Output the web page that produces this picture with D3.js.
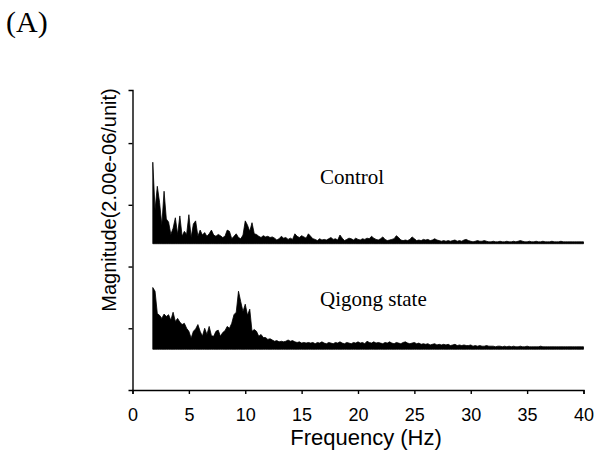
<!DOCTYPE html>
<html>
<head>
<meta charset="utf-8">
<script src="https://cdn.jsdelivr.net/npm/d3@7"></script>
<style>
  html, body { margin: 0; padding: 0; background: #fff; }
  svg { display: block; }
  .axis path, .axis line { stroke: #000; stroke-width: 1.4; }
  .axis text { font-family: "Liberation Sans", Arial, sans-serif; font-size: 18px; fill: #000; }
  .serif { font-family: "Liberation Serif", "Times New Roman", serif; fill: #000; }
  .sans { font-family: "Liberation Sans", Arial, sans-serif; fill: #000; }
</style>
</head>
<body>
<svg id="chart" width="597" height="471"></svg>
<script>
// spectra sampled every 0.2 Hz from 1.8 Hz to 40 Hz (magnitude in 2.00e-06 units)
const F_START = 1.8;
const F_STEP = 0.2;
const X_TICKS = [0, 5, 10, 15, 20, 25, 30, 35, 40];
const Y_TICKS = [1, 2, 3, 4];

const CONTROL_OFFSET = 2.37;
const QIGONG_OFFSET = 0.66;

const controlValues = [
  1.32, 0.55, 0.93, 0.67, 0.30, 0.85, 0.40, 0.35, 0.15, 0.25,
  0.42, 0.15, 0.45, 0.12, 0.20, 0.15, 0.47, 0.10, 0.32, 0.37,
  0.12, 0.22, 0.14, 0.18, 0.12, 0.16, 0.22, 0.14, 0.12, 0.15,
  0.13, 0.10, 0.12, 0.22, 0.20, 0.08, 0.12, 0.16, 0.10, 0.08,
  0.14, 0.37, 0.30, 0.20, 0.34, 0.16, 0.15, 0.12, 0.10, 0.13,
  0.11, 0.12, 0.10, 0.11, 0.09, 0.06, 0.08, 0.12, 0.09, 0.10,
  0.07, 0.09, 0.07, 0.16, 0.12, 0.10, 0.13, 0.11, 0.09, 0.16,
  0.12, 0.08, 0.07, 0.05, 0.08, 0.06, 0.07, 0.06, 0.08, 0.10,
  0.07, 0.08, 0.06, 0.14, 0.09, 0.05, 0.07, 0.09, 0.08, 0.06,
  0.09, 0.07, 0.06, 0.08, 0.07, 0.09, 0.08, 0.12, 0.09, 0.07,
  0.06, 0.08, 0.11, 0.07, 0.05, 0.06, 0.07, 0.08, 0.13, 0.10,
  0.06, 0.05, 0.06, 0.05, 0.07, 0.11, 0.08, 0.05, 0.06, 0.05,
  0.07, 0.06, 0.07, 0.05, 0.06, 0.08, 0.06, 0.05, 0.04, 0.05,
  0.04, 0.05, 0.04, 0.05, 0.06, 0.04, 0.05, 0.04, 0.06, 0.07,
  0.05, 0.04, 0.03, 0.04, 0.05, 0.04, 0.04, 0.05, 0.04, 0.03,
  0.03, 0.04, 0.03, 0.03, 0.04, 0.03, 0.03, 0.04, 0.03, 0.03,
  0.04, 0.03, 0.04, 0.05, 0.04, 0.03, 0.03, 0.04, 0.03, 0.03,
  0.04, 0.03, 0.03, 0.04, 0.03, 0.03, 0.03, 0.04, 0.03, 0.03,
  0.03, 0.04, 0.03, 0.03, 0.03, 0.03, 0.03, 0.03, 0.03, 0.03,
  0.03, 0.03
];

const qigongValues = [
  1.00, 0.94, 0.58, 0.55, 0.50, 0.57, 0.53, 0.56, 0.47, 0.60,
  0.45, 0.50, 0.44, 0.40, 0.42, 0.34, 0.29, 0.18, 0.29, 0.33,
  0.40, 0.29, 0.21, 0.34, 0.24, 0.37, 0.22, 0.21, 0.29, 0.31,
  0.21, 0.27, 0.30, 0.37, 0.34, 0.42, 0.56, 0.60, 0.94, 0.77,
  0.61, 0.73, 0.55, 0.65, 0.29, 0.32, 0.29, 0.21, 0.24, 0.19,
  0.19, 0.16, 0.17, 0.15, 0.13, 0.14, 0.12, 0.13, 0.12, 0.13,
  0.15, 0.13, 0.14, 0.12, 0.11, 0.12, 0.10, 0.11, 0.10, 0.11,
  0.10, 0.11, 0.09, 0.11, 0.10, 0.12, 0.10, 0.09, 0.11, 0.10,
  0.09, 0.11, 0.10, 0.12, 0.10, 0.09, 0.11, 0.10, 0.09, 0.11,
  0.10, 0.12, 0.10, 0.11, 0.09, 0.13, 0.11, 0.10, 0.12, 0.10,
  0.11, 0.10, 0.09, 0.11, 0.10, 0.12, 0.10, 0.09, 0.11, 0.10,
  0.09, 0.11, 0.12, 0.10, 0.09, 0.10, 0.11, 0.09, 0.10, 0.08,
  0.09, 0.08, 0.09, 0.07, 0.08, 0.09, 0.07, 0.08, 0.07, 0.08,
  0.07, 0.08, 0.06, 0.07, 0.08, 0.06, 0.07, 0.06, 0.07, 0.06,
  0.06, 0.07, 0.05, 0.06, 0.05, 0.06, 0.05, 0.05, 0.06, 0.05,
  0.05, 0.05, 0.04, 0.05, 0.05, 0.04, 0.05, 0.04, 0.05, 0.04,
  0.05, 0.04, 0.04, 0.05, 0.04, 0.04, 0.05, 0.04, 0.04, 0.04,
  0.04, 0.04, 0.05, 0.04, 0.04, 0.04, 0.04, 0.04, 0.04, 0.04,
  0.04, 0.04, 0.04, 0.04, 0.04, 0.04, 0.04, 0.04, 0.04, 0.04,
  0.04, 0.04
];

const svg = d3.select('#chart');

const x = d3.scaleLinear().domain([0, 40]).range([132.5, 583.5]);
const y = d3.scaleLinear().domain([0, 4.86]).range([390, 90]);

function drawSpectrum(values, offset) {
  const pts = values.map((v, i) => ({ f: F_START + i * F_STEP, v }));
  const area = d3.area()
    .x(d => x(d.f))
    .y0(y(offset))
    .y1(d => y(offset + d.v));
  svg.append('path')
    .datum(pts)
    .attr('d', area)
    .attr('fill', '#000')
    .attr('stroke', '#000')
    .attr('stroke-width', 0.8)
    .attr('stroke-linejoin', 'miter');
}

drawSpectrum(controlValues, CONTROL_OFFSET);
drawSpectrum(qigongValues, QIGONG_OFFSET);

// Axes
const xAxis = d3.axisBottom(x)
  .tickValues(X_TICKS)
  .tickSize(4)
  .tickSizeOuter(4)
  .tickPadding(14);
svg.append('g')
  .attr('class', 'axis')
  .attr('transform', 'translate(0,390)')
  .call(xAxis);

const yAxis = d3.axisLeft(y)
  .tickValues(Y_TICKS)
  .tickSize(4)
  .tickSizeOuter(4)
  .tickFormat('');
svg.append('g')
  .attr('class', 'axis')
  .attr('transform', 'translate(132.5,0)')
  .call(yAxis);

// Labels
svg.append('text')
  .attr('class', 'sans')
  .attr('x', 366)
  .attr('y', 445)
  .attr('text-anchor', 'middle')
  .attr('font-size', 22)
  .text('Frequency (Hz)');

svg.append('text')
  .attr('class', 'sans')
  .attr('transform', 'translate(116,200) rotate(-90)')
  .attr('text-anchor', 'middle')
  .attr('font-size', 20)
  .text('Magnitude(2.00e-06/unit)');

svg.append('text')
  .attr('class', 'serif')
  .attr('x', 6)
  .attr('y', 32)
  .attr('font-size', 30)
  .text('(A)');

svg.append('text')
  .attr('class', 'serif')
  .attr('x', 320)
  .attr('y', 183.5)
  .attr('font-size', 21)
  .text('Control');

svg.append('text')
  .attr('class', 'serif')
  .attr('x', 320)
  .attr('y', 306)
  .attr('font-size', 21)
  .text('Qigong state');
</script>
</body>
</html>
